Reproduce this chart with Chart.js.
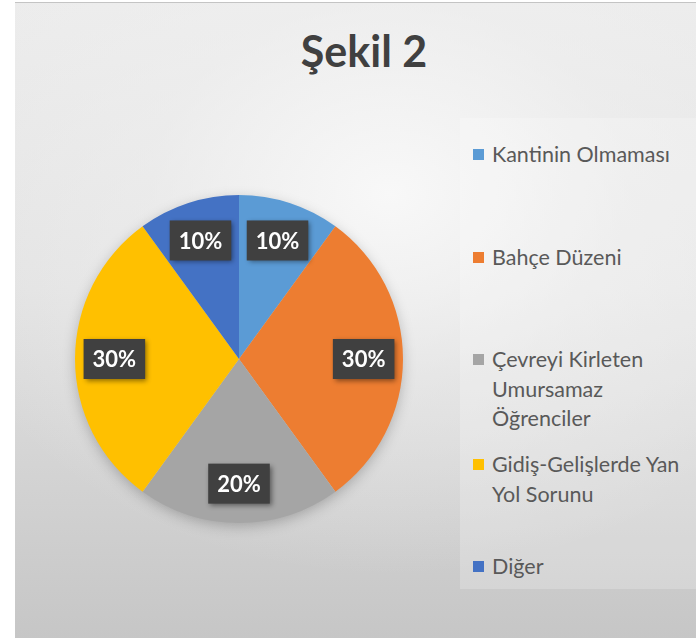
<!DOCTYPE html>
<html>
<head>
<meta charset="utf-8">
<script src="https://cdn.jsdelivr.net/npm/chart.js@4.4.1/dist/chart.umd.min.js"></script>
<style>
  html, body { margin: 0; padding: 0; background: #ffffff; }
  #frame {
    position: absolute; left: 15px; top: 2px; width: 681px; height: 636px;
    border-top: 1px solid #c4c4c4;
    background:
      radial-gradient(ellipse 70% 60% at 55% 30%, rgba(250,250,250,0.9) 0%, rgba(240,240,240,0.5) 50%, rgba(240,240,240,0) 100%),
      linear-gradient(to bottom, #ececec 0%, #e2e2e2 45%, #c6c6c6 100%);
  }
  #legendBox {
    position: absolute; left: 460px; top: 118px; width: 236px; height: 471px;
    background: rgba(255,255,255,0.22);
  }
  #title {
    position: absolute; left: 0; width: 728px; top: 29px; text-align: center;
    font-family: Lato, sans-serif; font-weight: bold; font-size: 43px; line-height: 43px; color: #404040;
  }
  .item {
    position: absolute; left: 472px;
    font-family: Lato, sans-serif; font-size: 21.5px; line-height: 29.5px; color: #595959;
  }
  .item .box {
    position: absolute; left: 1px; top: 9px; width: 11px; height: 11px;
  }
  .item .txt { margin-left: 20px; white-space: nowrap; }
  #wrap { position: absolute; left: 0; top: 0; width: 696px; height: 638px; }
</style>
</head>
<body>
<div id="frame"></div>
<div id="legendBox"></div>
<div id="title">Şekil 2</div>
<div id="legend"></div>
<div id="wrap"><canvas id="pieChart"></canvas></div>
<script>
var categories = [
  'Kantinin Olmaması',
  'Bahçe Düzeni',
  ['Çevreyi Kirleten', 'Umursamaz', 'Öğrenciler'],
  ['Gidiş-Gelişlerde Yan', 'Yol Sorunu'],
  'Diğer'
];
var values = [10, 30, 20, 30, 10];
var percentLabels = ['10%', '30%', '20%', '30%', '10%'];
var sliceColors = ['#5b9bd5', '#ed7d31', '#a5a5a5', '#ffc000', '#4472c4'];

// legend (html, since labels wrap over several lines)
var legendTops = [140, 243, 345, 450, 552];
var legend = document.getElementById('legend');
for (var i = 0; i < categories.length; i++) {
  var item = document.createElement('div');
  item.className = 'item';
  item.style.top = legendTops[i] + 'px';
  var box = document.createElement('div');
  box.className = 'box';
  box.style.background = sliceColors[i];
  var txt = document.createElement('div');
  txt.className = 'txt';
  var lines = Array.isArray(categories[i]) ? categories[i] : [categories[i]];
  txt.innerHTML = lines.join('<br>');
  item.appendChild(box);
  item.appendChild(txt);
  legend.appendChild(item);
}

var pieShadow = {
  id: 'pieShadow',
  beforeDatasetsDraw: function(chart) {
    var arc = chart.getDatasetMeta(0).data[0];
    if (!arc) return;
    var ctx = chart.ctx;
    ctx.save();
    ctx.shadowColor = 'rgba(0,0,0,0.25)';
    ctx.shadowBlur = 14;
    ctx.shadowOffsetY = 4;
    ctx.fillStyle = '#cccccc';
    ctx.beginPath();
    ctx.arc(arc.x, arc.y, arc.outerRadius - 1, 0, Math.PI * 2);
    ctx.fill();
    ctx.restore();
  }
};

var sliceLabels = {
  id: 'sliceLabels',
  afterDatasetsDraw: function(chart) {
    var ctx = chart.ctx;
    var arcs = chart.getDatasetMeta(0).data;
    ctx.save();
    ctx.font = 'bold 22px Lato, sans-serif';
    ctx.textAlign = 'center';
    ctx.textBaseline = 'middle';
    for (var i = 0; i < arcs.length; i++) {
      var a = arcs[i];
      var mid = (a.startAngle + a.endAngle) / 2;
      var r = a.outerRadius * 0.76;
      var x = a.x + Math.cos(mid) * r;
      var y = a.y + Math.sin(mid) * r;
      var w = ctx.measureText(percentLabels[i]).width + 18;
      var h = 40;
      ctx.shadowColor = 'rgba(0,0,0,0.45)';
      ctx.shadowBlur = 5;
      ctx.shadowOffsetX = 2;
      ctx.shadowOffsetY = 2;
      ctx.fillStyle = '#404040';
      ctx.fillRect(x - w / 2, y - h / 2, w, h);
      ctx.shadowColor = 'transparent';
      ctx.fillStyle = '#ffffff';
      ctx.fillText(percentLabels[i], x, y + 1);
    }
    ctx.restore();
  }
};

new Chart(document.getElementById('pieChart').getContext('2d'), {
  type: 'pie',
  data: {
    labels: categories,
    datasets: [{
      data: values,
      backgroundColor: sliceColors,
      borderWidth: 0,
      hoverOffset: 0
    }]
  },
  options: {
    responsive: true,
    maintainAspectRatio: false,
    animation: false,
    layout: {
      padding: { left: 75, top: 195, right: 293, bottom: 115 }
    },
    plugins: {
      legend: { display: false },
      title: { display: false },
      tooltip: { enabled: false }
    }
  },
  plugins: [pieShadow, sliceLabels]
});
</script>
</body>
</html>
